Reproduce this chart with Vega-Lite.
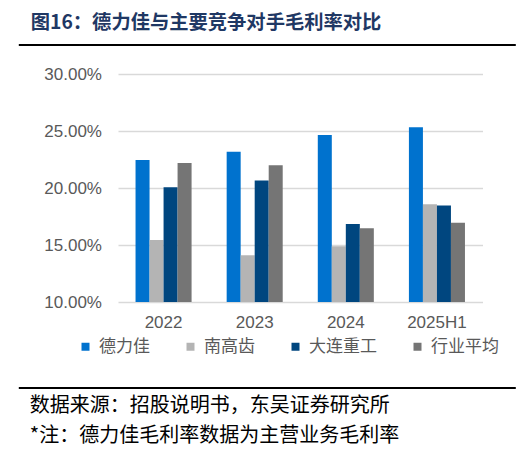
{
  "$schema": "https://vega.github.io/schema/vega-lite/v6.json",
  "padding": {"left": 17, "top": 13, "right": 0, "bottom": 0},
  "background": "white",
  "spacing": 0,
  "resolve": {"legend": {"color": "independent"}, "scale": {"color": "independent"}},
  "config": {"view": {"stroke": null}, "font": "Noto Sans CJK SC"},
  "vconcat": [
    {
      "width": 397.8,
      "height": 20,
      "title": {
        "text": "图16：德力佳与主要竞争对手毛利率对比",
        "anchor": "start",
        "frame": "bounds",
        "dx": 13,
        "offset": 11,
        "fontSize": 19.3,
        "fontWeight": "bold",
        "color": "#1F3864",
        "font": "Noto Sans CJK SC"
      },
      "data": {"values": [{"line": "header"}]},
      "mark": {"type": "rule", "color": "#000000", "strokeWidth": 2},
      "encoding": {
        "x": {"datum": 0, "type": "quantitative", "scale": {"domain": [0, 1], "rangeMin": -99.2, "rangeMax": 397.8}, "axis": null},
        "x2": {"datum": 1},
        "y": {"datum": 1, "type": "quantitative", "scale": {"domain": [0, 1]}, "axis": null}
      }
    },
    {
      "width": 364.5,
      "height": 228,
      "data": {
        "values": [
          {"year": "2022", "company": "德力佳", "margin": 0.2246},
          {"year": "2022", "company": "南高齿", "margin": 0.1544},
          {"year": "2022", "company": "大连重工", "margin": 0.2006},
          {"year": "2022", "company": "行业平均", "margin": 0.2219},
          {"year": "2023", "company": "德力佳", "margin": 0.2319},
          {"year": "2023", "company": "南高齿", "margin": 0.141},
          {"year": "2023", "company": "大连重工", "margin": 0.2065},
          {"year": "2023", "company": "行业平均", "margin": 0.2199},
          {"year": "2024", "company": "德力佳", "margin": 0.2465},
          {"year": "2024", "company": "南高齿", "margin": 0.1489},
          {"year": "2024", "company": "大连重工", "margin": 0.1684},
          {"year": "2024", "company": "行业平均", "margin": 0.1646},
          {"year": "2025H1", "company": "德力佳", "margin": 0.2532},
          {"year": "2025H1", "company": "南高齿", "margin": 0.1857},
          {"year": "2025H1", "company": "大连重工", "margin": 0.1846},
          {"year": "2025H1", "company": "行业平均", "margin": 0.1696}
        ]
      },
      "mark": {"type": "bar"},
      "encoding": {
        "x": {
          "field": "year",
          "type": "nominal",
          "sort": null,
          "scale": {"paddingInner": 0.385, "paddingOuter": 0.1925},
          "axis": {
            "title": null,
            "labelAngle": 0,
            "domain": false,
            "ticks": false,
            "labelFont": "Liberation Sans",
            "labelFontSize": 17,
            "labelColor": "#595959",
            "labelPadding": 12
          }
        },
        "xOffset": {
          "field": "company",
          "type": "nominal",
          "sort": ["德力佳", "南高齿", "大连重工", "行业平均"],
          "scale": {"paddingInner": 0, "paddingOuter": 0}
        },
        "y": {
          "field": "margin",
          "type": "quantitative",
          "scale": {"domain": [0.1, 0.3], "zero": false, "nice": false},
          "axis": {
            "title": null,
            "values": [0.1, 0.15, 0.2, 0.25, 0.3],
            "format": ".2%",
            "domain": false,
            "ticks": false,
            "labelFont": "Liberation Sans",
            "labelFontSize": 17,
            "labelColor": "#595959",
            "labelPadding": 16.5,
            "gridColor": "#D9D9D9",
            "gridWidth": 1.3
          }
        },
        "y2": {"datum": 0.1},
        "color": {
          "field": "company",
          "type": "nominal",
          "sort": ["德力佳", "南高齿", "大连重工", "行业平均"],
          "scale": {
            "domain": ["德力佳", "南高齿", "大连重工", "行业平均"],
            "range": ["#0072CE", "#B4B4B4", "#00467F", "#757575"]
          },
          "legend": {
            "title": null,
            "orient": "none",
            "legendX": -41,
            "legendY": 264,
            "direction": "horizontal",
            "columns": 4,
            "columnPadding": 32,
            "padding": 0,
            "symbolType": "square",
            "symbolSize": 64,
            "symbolStrokeWidth": 0,
            "labelFont": "Noto Sans CJK SC",
            "labelFontSize": 17,
            "labelColor": "#595959",
            "labelOffset": 5
          }
        }
      }
    },
    {
      "width": 397.8,
      "height": 33,
      "title": {
        "text": ["数据来源：招股说明书，东吴证券研究所", "*注：德力佳毛利率数据为主营业务毛利率"],
        "orient": "bottom",
        "anchor": "start",
        "frame": "bounds",
        "dx": 12,
        "offset": 7,
        "fontSize": 20,
        "fontWeight": "normal",
        "lineHeight": 30,
        "color": "#000000",
        "font": "Noto Sans CJK SC"
      },
      "data": {"values": [{"line": "source"}]},
      "mark": {"type": "rule", "color": "#000000", "strokeWidth": 2},
      "encoding": {
        "x": {"datum": 0, "type": "quantitative", "scale": {"domain": [0, 1], "rangeMin": -99.2, "rangeMax": 397.8}, "axis": null},
        "x2": {"datum": 1},
        "y": {"datum": 0, "type": "quantitative", "scale": {"domain": [0, 1]}, "axis": null}
      }
    }
  ]
}
